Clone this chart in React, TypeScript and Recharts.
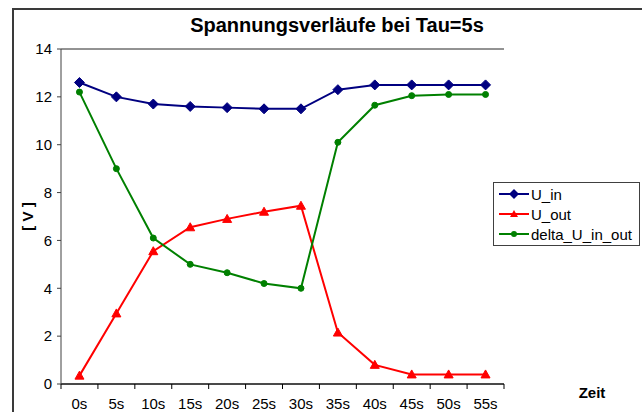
import React from 'react';
import { LineChart, Line, XAxis, YAxis, CartesianGrid, Legend } from 'recharts';

const categories = ['0s', '5s', '10s', '15s', '20s', '25s', '30s', '35s', '40s', '45s', '50s', '55s'];
const uIn = [12.6, 12.0, 11.7, 11.6, 11.55, 11.5, 11.5, 12.3, 12.5, 12.5, 12.5, 12.5];
const uOut = [0.35, 2.95, 5.55, 6.55, 6.9, 7.2, 7.45, 2.15, 0.8, 0.4, 0.4, 0.4];
const deltaInOut = [12.2, 9.0, 6.1, 5.0, 4.65, 4.2, 4.0, 10.1, 11.65, 12.05, 12.1, 12.1];
const yTicks = [0, 2, 4, 6, 8, 10, 12, 14];

const data = categories.map((t, i) => ({
  t,
  U_in: uIn[i],
  U_out: uOut[i],
  delta_U_in_out: deltaInOut[i],
}));

const FONT = '"Liberation Sans", Arial, sans-serif';
const NAVY = '#000080';
const RED = '#ff0000';
const GREEN = '#008000';

const Diamond = (props: any) => {
  const { cx, cy } = props;
  if (cx == null || cy == null) return null;
  const r = 5;
  return <polygon points={`${cx},${cy - r} ${cx + r},${cy} ${cx},${cy + r} ${cx - r},${cy}`} fill={NAVY} stroke={NAVY} />;
};

const Triangle = (props: any) => {
  const { cx, cy } = props;
  if (cx == null || cy == null) return null;
  return <polygon points={`${cx},${cy - 4.5} ${cx + 4.5},${cy + 3.5} ${cx - 4.5},${cy + 3.5}`} fill={RED} stroke={RED} />;
};

const Dot = (props: any) => {
  const { cx, cy } = props;
  if (cx == null || cy == null) return null;
  return <circle cx={cx} cy={cy} r={3} fill={GREEN} stroke={GREEN} />;
};

// Excel style: tick marks between categories, labels in the middle
const XTick = (props: any) => {
  const { x, y, payload, index, visibleTicksCount } = props;
  const off = payload && payload.offset ? payload.offset : 18.45;
  return (
    <g>
      <rect x={x - off - 0.5} y={y} width={1} height={5} fill="#000" />
      {index === visibleTicksCount - 1 && <rect x={x + off - 0.5} y={y} width={1} height={5} fill="#000" />}
      <text x={x} y={y + 25} textAnchor="middle" fill="#000" fontSize={15} fontFamily={FONT}>
        {payload.value}
      </text>
    </g>
  );
};

const legendItems = [
  { name: 'U_in', color: NAVY, shape: 'diamond' },
  { name: 'U_out', color: RED, shape: 'triangle' },
  { name: 'delta_U_in_out', color: GREEN, shape: 'dot' },
];

const LegendBox = () => (
  <div style={{ border: '1px solid #404040', background: '#fff', padding: '1px 0 1px 5px', fontFamily: FONT, fontSize: 15 }}>
    {legendItems.map((it) => (
      <div key={it.name} style={{ display: 'flex', alignItems: 'center', height: 20 }}>
        <svg width={30} height={12} style={{ marginRight: 2 }}>
          <line x1={0} y1={6} x2={30} y2={6} stroke={it.color} strokeWidth={2} />
          {it.shape === 'diamond' && <polygon points="15,1 20,6 15,11 10,6" fill={it.color} />}
          {it.shape === 'triangle' && <polygon points="15,2 19,9 11,9" fill={it.color} />}
          {it.shape === 'dot' && <circle cx={15} cy={6} r={3} fill={it.color} />}
        </svg>
        <span>{it.name}</span>
      </div>
    ))}
  </div>
);

export default function App() {
  return (
    <div style={{ position: 'absolute', left: 0, top: 0, width: 642, height: 412, overflow: 'hidden', background: '#fff' }}>
      <div style={{ position: 'absolute', left: 12, top: 8, width: 700, height: 500, borderTop: '2px solid #3a3a3a', borderLeft: '2px solid #3a3a3a' }} />
      <div
        style={{
          position: 'absolute', left: 0, width: 674, top: 15, textAlign: 'center',
          fontFamily: FONT, fontWeight: 'bold', fontSize: 20, lineHeight: '20px', color: '#000',
        }}
      >
        Spannungsverläufe bei Tau=5s
      </div>
      <LineChart width={642} height={412} data={data} margin={{ top: 49, right: 138, bottom: 0, left: 0 }}>
        <CartesianGrid horizontal vertical={false} stroke="#000" strokeOpacity={0.85} />
        <XAxis
          dataKey="t"
          scale="band"
          height={28}
          tickLine={false}
          tickSize={0}
          tickMargin={0}
          interval={0}
          axisLine={{ stroke: '#000' }}
          tick={<XTick />}
          label={(p: any) => {
            const vb = p.viewBox;
            return (
              <text x={vb.x + vb.width + 88} y={vb.y + 14} textAnchor="middle" fontFamily={FONT} fontWeight="bold" fontSize={15} fill="#000">
                Zeit
              </text>
            );
          }}
        />
        <YAxis
          yAxisId="l"
          width={61}
          domain={[0, 14]}
          ticks={yTicks}
          interval={0}
          tickSize={4}
          tickMargin={5}
          axisLine={{ stroke: '#404040' }}
          tickLine={{ stroke: '#404040' }}
          tick={{ fill: '#000', fontSize: 15, fontFamily: FONT }}
          label={(p: any) => {
            const vb = p.viewBox;
            const cy = vb.y + vb.height / 2;
            return (
              <text
                x={27}
                y={cy}
                transform={`rotate(-90, 27, ${cy})`}
                textAnchor="middle"
                dominantBaseline="central"
                fontFamily={FONT}
                fontWeight="bold"
                fontSize={15}
                fill="#000"
              >
                [ V ]
              </text>
            );
          }}
        />
        <YAxis yAxisId="r" orientation="right" width={0} domain={[0, 14]} tick={false} tickLine={false} axisLine={{ stroke: '#a0a0a0' }} />
        <Legend
          layout="vertical"
          align="center"
          verticalAlign="middle"
          content={() => <LegendBox />}
          wrapperStyle={{ left: 493, top: 182, width: 147, height: 'auto' }}
        />
        <Line yAxisId="l" dataKey="U_in" stroke={NAVY} strokeWidth={2} dot={<Diamond />} isAnimationActive={false} />
        <Line yAxisId="l" dataKey="U_out" stroke={RED} strokeWidth={2} dot={<Triangle />} isAnimationActive={false} />
        <Line yAxisId="l" dataKey="delta_U_in_out" stroke={GREEN} strokeWidth={2} dot={<Dot />} isAnimationActive={false} />
      </LineChart>
    </div>
  );
}
